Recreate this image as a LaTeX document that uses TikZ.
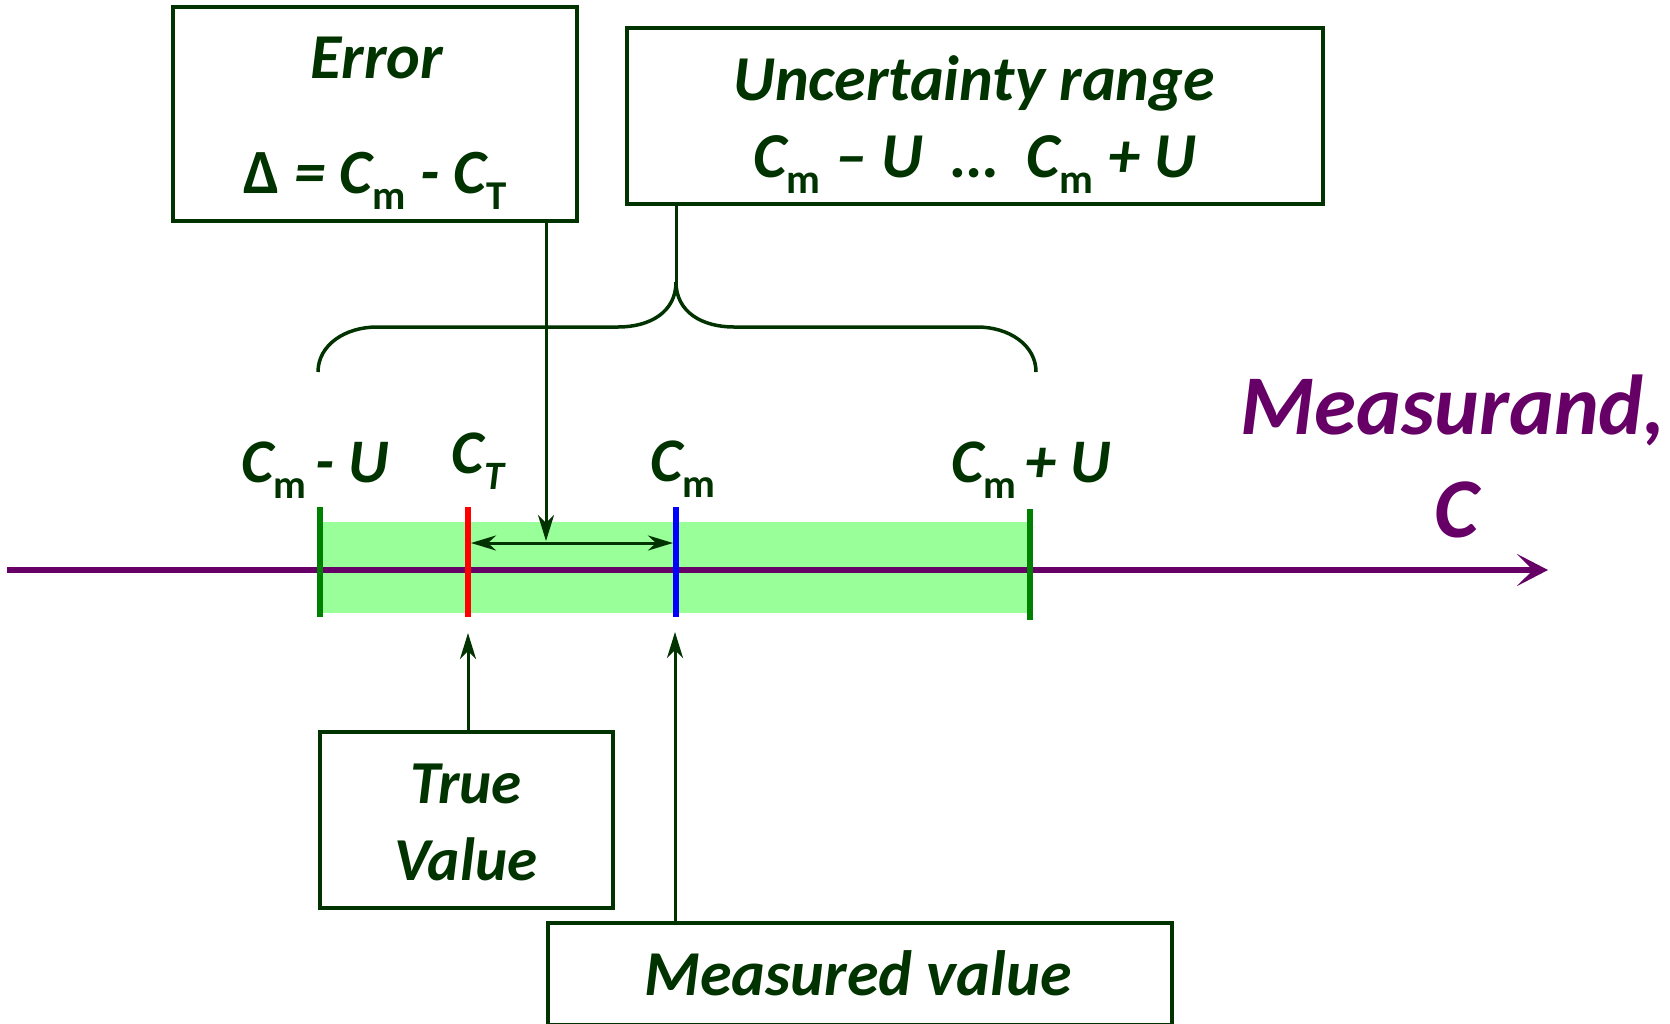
\documentclass[tikz,border=0pt]{standalone}
\usepackage{fontspec}
\setmainfont{Carlito}
\usetikzlibrary{arrows.meta}
\definecolor{dkgreen}{RGB}{0,51,0}
\definecolor{axpurple}{RGB}{102,0,102}
\definecolor{bandgreen}{RGB}{153,255,153}
\definecolor{tickgreen}{RGB}{0,128,0}
\newcommand\lowsub[1]{\raisebox{-0.26em}{\scalebox{0.65}{#1}}}
\newcommand\upsub[1]{\lowsub{\upshape #1}}
\begin{document}
\begin{tikzpicture}[x=1pt,y=-1pt,
  box/.style={draw=dkgreen,line width=3.5pt,inner sep=0pt,outer sep=0pt},
  lbl/.style={text=dkgreen,anchor=base,inner sep=0pt,font=\bfseries\itshape\fontsize{#1}{#1}\selectfont},
  conn/.style={draw=dkgreen,line width=3pt,-{Stealth[length=26pt,width=16pt,inset=8pt]}},
  dconn/.style={draw=dkgreen,line width=3pt,{Stealth[length=25pt,width=15pt,inset=8pt]}-{Stealth[length=25pt,width=15pt,inset=8pt]}},
  tick/.style={line width=6.5pt}]
\useasboundingbox (0,0) rectangle (1670,1023);

% boxes
\node[box,minimum width=404pt,minimum height=214pt] (errbox) at (375,114) {};
\node[box,minimum width=696pt,minimum height=176pt] (uncbox) at (975,116) {};
\node[box,minimum width=293pt,minimum height=176pt] (truebox) at (466.5,820) {};
\node[box,minimum width=624pt,minimum height=102pt] (measbox) at (860,974) {};

% box texts
\node[lbl=64] (errT) at (377,78) {Error};
\node[lbl=63] (errF) at (375,193) {{\upshape Δ} = C\upsub{m} - C\upsub{T}};
\node[lbl=64] (uncT) at (974,100) {Uncertainty range};
\node[lbl=64] (uncF) at (975,177) {C\upsub{m} – U~~…~~C\upsub{m} + U};
\node[lbl=61] (trueT) at (466,803) {True};
\node[lbl=61] (trueV) at (466,880) {Value};
\node[lbl=64] (measT) at (858,995) {Measured value};

% band, axis, ticks
\fill[bandgreen] (320,522) rectangle (1030,613);
\coordinate (axL) at (7,570);
\coordinate (axR) at (1548,570);
\draw[axpurple,line width=6pt,-{Stealth[length=31pt,width=32pt,inset=16pt]}] (axL) -- (axR);

\coordinate (tLt) at (320,507); \coordinate (tLb) at (320,617);
\coordinate (tTt) at (468,507); \coordinate (tTb) at (468,617);
\coordinate (tMt) at (676,507); \coordinate (tMb) at (676,617);
\coordinate (tRt) at (1030,509); \coordinate (tRb) at (1030,620);
\draw[tick,tickgreen] (tLt) -- (tLb);
\draw[tick,red] (tTt) -- (tTb);
\draw[tick,blue] (tMt) -- (tMb);
\draw[tick,tickgreen] (tRt) -- (tRb);

% axis labels
\node[lbl=62] (lCmU) at (315,482) {C\upsub{m}\hspace{-0.08em} - U};
\node[lbl=62] (lCT) at (478,473) {C\lowsub{T}};
\node[lbl=62] (lCm) at (683,481) {C\upsub{m}};
\node[lbl=62] (lCpU) at (1031,482) {C\upsub{m}\hspace{-0.08em} + U};
\node[lbl=85,text=axpurple] (meas1) at (1453,434) {Measurand,};
\node[lbl=85,text=axpurple] (meas2) at (1457,537) {C};

% brace
\coordinate (bracetip) at (676,282);
\draw[dkgreen,line width=3.5pt] (318,372) .. controls (318,345) and (345,327) .. (377,327) -- (618,327)
  .. controls (650,327) and (676,312) .. (bracetip)
  .. controls (676,312) and (702,327) .. (734,327) -- (977,327)
  .. controls (1009,327) and (1036,345) .. (1036,372);
\draw[dkgreen,line width=3pt] (uncbox.south -| bracetip) -- (bracetip);

% connectors
\coordinate (errtip) at (546,541);
\coordinate (dL) at (471,543);
\coordinate (dR) at (673,543);
\coordinate (truetip) at (468,633);
\coordinate (meastip) at (675,632);
\draw[conn] (errbox.south -| errtip) -- (errtip);
\draw[dconn] (dL) -- (dR);
\draw[conn] (truebox.north -| truetip) -- (truetip);
\draw[conn] (measbox.north -| meastip) -- (meastip);
\end{tikzpicture}
\end{document}
